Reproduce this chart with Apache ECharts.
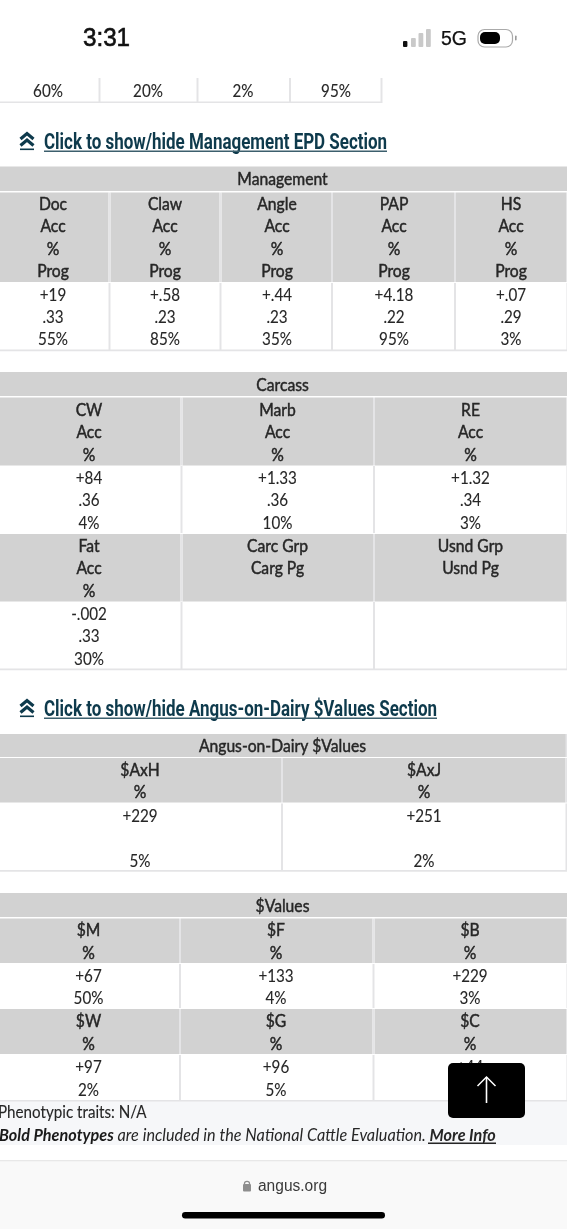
<!DOCTYPE html>
<html><head><meta charset="utf-8">
<style>html,body{margin:0;padding:0;background:#fff}#c{width:567px;height:1229px}</style>
<script src="https://cdn.jsdelivr.net/npm/echarts@6/dist/echarts.min.js"></script>
</head><body><div id="c"></div>
<script>
// ---- content ----
const statusTime = '3:31';
const networkLabel = '5G';
const topRowValues = ['60%', '20%', '2%', '95%'];
const linkManagement = 'Click to show/hide Management EPD Section';
const linkDairy = 'Click to show/hide Angus-on-Dairy $Values Section';
const managementTitle = 'Management';
const managementHeader = [['Doc','Acc','%','Prog'],['Claw','Acc','%','Prog'],['Angle','Acc','%','Prog'],['PAP','Acc','%','Prog'],['HS','Acc','%','Prog']];
const managementValues = [['+19','.33','55%'],['+.58','.23','85%'],['+.44','.23','35%'],['+4.18','.22','95%'],['+.07','.29','3%']];
const carcassTitle = 'Carcass';
const carcassHeader1 = [['CW','Acc','%'],['Marb','Acc','%'],['RE','Acc','%']];
const carcassValues1 = [['+84','.36','4%'],['+1.33','.36','10%'],['+1.32','.34','3%']];
const carcassHeader2 = [['Fat','Acc','%'],['Carc Grp','Carg Pg'],['Usnd Grp','Usnd Pg']];
const carcassValues2 = [['-.002','.33','30%'],[],[]];
const dairyTitle = 'Angus-on-Dairy $Values';
const dairyHeader = [['$AxH','%'],['$AxJ','%']];
const dairyValues = [['+229','','5%'],['+251','','2%']];
const dollarTitle = '$Values';
const dollarHeader1 = [['$M','%'],['$F','%'],['$B','%']];
const dollarValues1 = [['+67','50%'],['+133','4%'],['+229','3%']];
const dollarHeader2 = [['$W','%'],['$G','%'],['$C','%']];
const dollarValues2 = [['+97','2%'],['+96','5%'],['+44','']];
const phenoNote = 'Phenotypic traits: N/A';
const footerBold = 'Bold Phenotypes';
const footerRest = ' are included in the National Cattle Evaluation. ';
const footerLink = 'More Info';
const siteLabel = 'angus.org';

// ---- drawing helpers ----
const G = [];
const HEAD = '#d2d2d2', LINE = '#e4e4e6', INK = '#262626', LINK = '#0e3a4c';
const FONT = 'Lato';
const rect = (x,y,w,h,fill,r) => G.push({type:'rect',shape:{x,y,width:w,height:h,r:r||0},style:{fill},silent:true});
// squeezeX: the source photograph is narrowed horizontally
const text = (t,x,y,o,squeezeX) => G.push({type:'text',x,y:y,scaleX:squeezeX||1,silent:true,style:Object.assign({text:t,fontFamily:FONT,fontSize:16.5,fill:INK,align:'center',verticalAlign:'middle'},o||{})});
const body = (t,x,y) => text(t,x,y+0.8,{stroke:INK,lineWidth:0.12},0.92);
const strong = (t,x,y) => text(t,x,y+0.8,{stroke:INK,lineWidth:0.45},0.95);

function cols(edges){ return edges.slice(0,-1).map((e,i)=>[e,edges[i+1]]); }
function band(edges,y0,y1,colLists,ys,fill,centers,draw){
  const cs = cols(edges);
  cs.forEach(([a,b])=>{ if(fill) rect(a+1,y0,b-a-2,y1-y0,fill); });
  edges.slice(1).forEach(e=>rect(e-1,y0,2,y1-y0,LINE));
  colLists.forEach((lines,c)=>lines.forEach((t,i)=>{ if(t) draw(t,centers[c],ys[i]); }));
}
function title(t,y0,y1,cy){ rect(0,y0,567,y1-y0,HEAD); strong(t,282.5,cy); }
function chevron(cx,y){
  const P = (pts)=>G.push({type:'polyline',silent:true,shape:{points:pts},style:{stroke:LINK,lineWidth:3.2,fill:null}});
  P([[cx-6.5,y+7],[cx,y+1.5],[cx+6.5,y+7]]);
  P([[cx-6.5,y+13.5],[cx,y+8],[cx+6.5,y+13.5]]);
  rect(cx-7,y+16.5,14,1.6,LINK);
}
function sectionLink(t,y,right){
  chevron(27,y-10);
  text(t,44,y+1.5,{fontFamily:'Roboto',fontWeight:700,fontSize:22,fill:LINK,align:'left'},0.771);
  rect(44,y+8.6,right-44,1.5,'#3c5f6d');
}

// ---- status bar ----
text(statusTime,106.5,38.5,{fontFamily:'Liberation Sans',fontSize:25.5,fill:'#111',stroke:'#111',lineWidth:0.6},0.95);
[[403,41,4.4,6,'#111'],[411,38,4.8,9,'#c9c9c9'],[418.5,33,4.8,14,'#c9c9c9'],[426,29,4.8,18,'#c9c9c9']].forEach(a=>rect(a[0],a[1],a[2],a[3],a[4],1));
text(networkLabel,454,39,{fontFamily:'Liberation Sans',fontSize:20.5,fill:'#111',stroke:'#111',lineWidth:0.25},0.95);
G.push({type:'rect',silent:true,shape:{x:478,y:29.5,width:34.5,height:17.5,r:6.5},style:{fill:'#fff',stroke:'#aaa',lineWidth:1.2}});
rect(480,32,20,12,'#000',5);
rect(515,35.5,1.6,5,'#999',1);

// ---- cut-off table at top ----
[99.5,197.5,290,381.5].forEach(x=>rect(x-1,78,2,25,LINE));
rect(0,101.5,382,1.6,LINE);
topRowValues.forEach((t,i)=>body(t,[48,148,243,336][i],90.5));

// ---- management ----
sectionLink(linkManagement,142,387);
title(managementTitle,166.5,191,179);
const mE=[-1,109.5,220.5,332,455,567.5], mC=[53,165,277,394,511];
band(mE,192.5,282,managementHeader,[203.5,226,248.5,271],HEAD,mC,strong);
band(mE,283,350,managementValues,[294.5,316.5,339],null,mC,body);
rect(0,349.5,567,1.8,LINE);

// ---- carcass ----
title(carcassTitle,372,396,385);
const cE=[-1,181.5,374,567.5], cC=[89,277.5,470.5];
band(cE,397.5,465.5,carcassHeader1,[409.5,432,454.5],HEAD,cC,strong);
band(cE,466,533,carcassValues1,[477.5,500,522.5],null,cC,body);
band(cE,534,601.5,carcassHeader2,[546,568,590.5],HEAD,cC,strong);
band(cE,602,669,carcassValues2,[614,636,658.5],null,cC,body);
rect(0,668.5,567,1.8,LINE);

// ---- dairy ----
sectionLink(linkDairy,709,437);
title(dairyTitle,734,757,746);
rect(565.5,734,2,23,LINE);
const dE=[-1,282,566.5], dC=[140,424];
band(dE,758,802.5,dairyHeader,[769.5,792],HEAD,dC,strong);
band(dE,803.5,870,dairyValues,[815.5,838,860.5],null,dC,body);
rect(0,870,567,1.8,LINE);

// ---- $values ----
title(dollarTitle,893,917,905.5);
const vE=[-1,180,373.5,567.5], vC=[88.5,276,470];
band(vE,918.5,963,dollarHeader1,[930,952.5],HEAD,vC,strong);
band(vE,964,1008,dollarValues1,[975.5,998],null,vC,body);
band(vE,1009,1054,dollarHeader2,[1021,1043.5],HEAD,vC,strong);
band(vE,1055,1100,dollarValues2,[1067,1089.5],null,vC,body);
rect(0,1100,567,1.6,LINE);

// ---- notes ----
G.splice(0,0,{type:'rect',silent:true,shape:{x:0,y:1101,width:567,height:44},style:{fill:'#f6f7f9'}});
text(phenoNote,-2,1113,{align:'left',stroke:INK,lineWidth:0.12},0.92);
G.push({type:'text',x:-1,y:1135,scaleX:0.922,silent:true,style:{
  text:`{b|${footerBold}}{i|${footerRest}}{l|${footerLink}}`,
  align:'left',verticalAlign:'middle',fontFamily:FONT,fontSize:17.6,
  rich:{
    b:{fontFamily:FONT,fontStyle:'italic',fontWeight:700,fontSize:17.6,fill:'#1a1a1a'},
    i:{fontFamily:FONT,fontStyle:'italic',fontSize:17.6,fill:'#262626'},
    l:{fontFamily:FONT,fontStyle:'italic',fontWeight:700,fontSize:17.6,fill:'#262626'}
  }}});
rect(428,1142.5,68,1.5,'#262626');

// ---- scroll button ----
rect(448,1063,77,55,'#000',5);
G.push({type:'polyline',silent:true,shape:{points:[[477.5,1086],[486.5,1077],[495.5,1086]]},style:{stroke:'#fff',lineWidth:1.5,fill:null}});
rect(485.7,1077,1.6,26,'#fff');

// ---- browser footer ----
rect(0,1160,567,69,'#f9f9f9');
rect(0,1160,567,1.2,'#e8e8e8');
rect(243,1184,8,7.5,'#8e8e8e',1);
G.push({type:'arc',silent:true,shape:{cx:247,cy:1184,r:2.6,startAngle:Math.PI,endAngle:0},style:{stroke:'#8e8e8e',lineWidth:1.2,fill:null}});
text(siteLabel,292.5,1186.5,{fontFamily:'Liberation Sans',fontSize:16,fill:'#3a3a3a'},0.97);
rect(182,1212,203,6.5,'#000',3.2);

const chart = echarts.init(document.getElementById('c'),null,{renderer:'canvas',width:567,height:1229});
chart.setOption({backgroundColor:'#fff',animation:false,graphic:{elements:G}});
</script></body></html>
